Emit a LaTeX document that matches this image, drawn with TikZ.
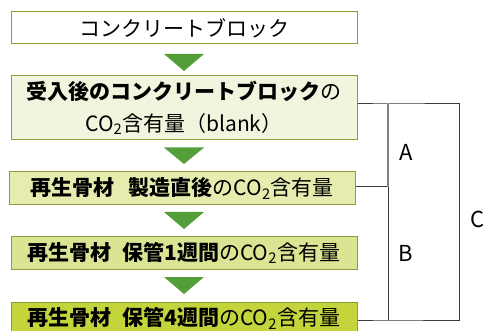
\documentclass[tikz,border=0pt]{standalone}
\usepackage{fontspec}
\setmainfont{Noto Sans CJK JP}
\usetikzlibrary{calc}
\definecolor{boxline}{HTML}{8F9B38}
\definecolor{fillB}{HTML}{F2F5DD}
\definecolor{fillC}{HTML}{E5ECAD}
\definecolor{fillD}{HTML}{DAE492}
\definecolor{fillE}{HTML}{C4D53C}
\definecolor{arrowgreen}{HTML}{549E3A}
\definecolor{linegray}{HTML}{3A3A3A}
\newcommand{\cotwo}{CO\textsubscript{2}}
\tikzset{
  flowbox/.style={draw=boxline, line width=1pt, minimum width=346pt, inner sep=0pt, align=center, font=\fontsize{21}{32}\selectfont, text=black},
  tri/.style={fill=arrowgreen, draw=none},
  conn/.style={draw=linegray, line width=1pt},
  lbl/.style={font=\fontsize{22}{26}\selectfont, text=black, inner sep=0pt}
}
\begin{document}
\begin{tikzpicture}[x=1pt,y=-1pt]
\useasboundingbox (0,0) rectangle (487,331);
\clip (0,0) rectangle (487,331);
\node[flowbox, fill=white, minimum height=32pt] (b1) at (184,28) {コンクリートブロック};
\node[flowbox, fill=fillB, minimum height=64pt] (b2) at (184,108) {\textbf{受入後のコンクリートブロック}の\\\cotwo 含有量（blank）};
\node[flowbox, fill=fillC, minimum height=33pt] (b3) at (182,188.5) {\textbf{再生骨材\hspace{0.7em}製造直後}の\cotwo 含有量};
\node[flowbox, fill=fillD, minimum height=33.5pt] (b4) at (184,253) {\textbf{再生骨材\hspace{0.5em}保管1週間}の\cotwo 含有量};
\node[flowbox, fill=fillE, minimum height=33pt] (b5) at (184,318.5) {\textbf{再生骨材\hspace{0.5em}保管4週間}の\cotwo 含有量};
% triangles
\foreach \ya/\yb in {54/71, 147.5/164, 212/229, 277/294}{
  \fill[tri] (164,\ya) -- (204,\ya) -- (184,\yb) -- cycle;
}
% connectors
\coordinate (jA) at (388,104);
\coordinate (jB) at (388,187);
\coordinate (jC) at (388,320);
\coordinate (kA) at (459,104);
\coordinate (kC) at (459,320);
\draw[conn] (b2.east |- jA) -- (jA) -- (kA) -- (kC) -- (jC) -- (b5.east |- jC);
\draw[conn] (b3.east |- jB) -- (jB) -- (jC);
\draw[draw=gray, line width=1.3pt] (jA) -- (jB);
\node[lbl] (la) at (406,152) {A};
\node[lbl] (lb) at (406,253) {B};
\node[lbl] (lc) at (478,219) {C};
\end{tikzpicture}
\end{document}
